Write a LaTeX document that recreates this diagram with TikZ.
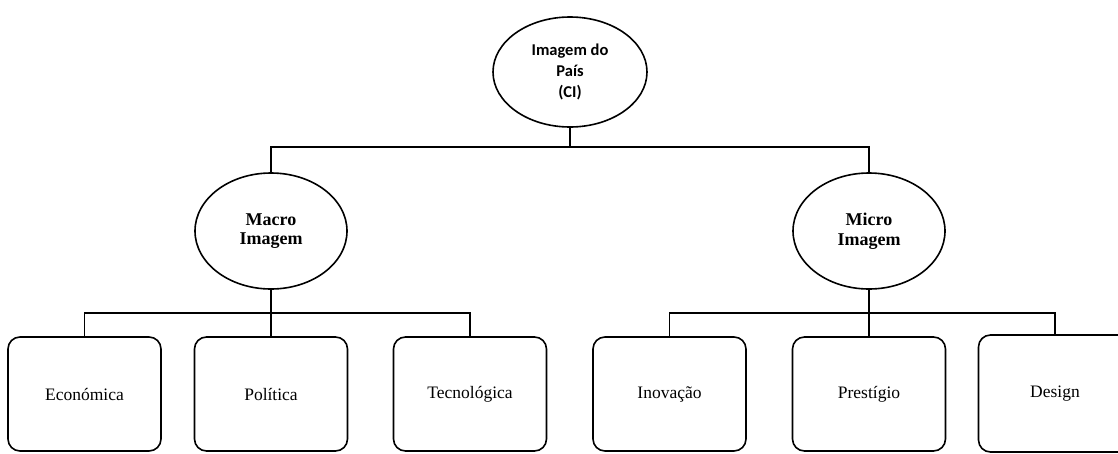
\documentclass[tikz,border=0pt]{standalone}
\usepackage{fontspec}
\setmainfont{Liberation Serif}
\newfontfamily\calibrifont{Carlito}
\usetikzlibrary{shapes.geometric}
\tikzset{
  img top/.style={draw,ellipse,line width=1.6pt,inner sep=0pt,minimum width=154pt,minimum height=110pt,
    align=center,font=\calibrifont\bfseries\fontsize{16.5}{21}\selectfont},
  img mid/.style={draw,ellipse,line width=1.6pt,inner sep=0pt,minimum width=152pt,minimum height=116pt,
    align=center,font=\bfseries\fontsize{18}{19.5}\selectfont},
  img leaf/.style={draw,rectangle,rounded corners=12pt,line width=1.6pt,minimum width=153pt,minimum height=114pt,
    font=\fontsize{17.5}{20}\selectfont},
  img link/.style={line width=1.6pt}
}
\begin{document}
\begin{tikzpicture}[x=1pt,y=1pt]
  \clip (0,0) rectangle (1118,-453);
  \node[img top] (ci) at (570,-72) {Imagem do\\País\\(CI)};
  \node[img mid] (macro) at (271,-231) {Macro\\Imagem};
  \node[img mid] (micro) at (869,-231) {Micro\\Imagem};
  \node[img leaf] (eco) at (84.5,-394) {Económica};
  \node[img leaf] (pol) at (271,-394) {Política};
  \node[img leaf] (tec) at (470,-394) {Tecnológica};
  \node[img leaf] (ino) at (669.5,-394) {Inovação};
  \node[img leaf] (pre) at (869,-394) {Prestígio};
  \node[img leaf,minimum height=117pt] (des) at (1055,-393.5) {Design};
  \coordinate (jtop) at (570,-147);
  \coordinate (jmacro) at (271,-313);
  \coordinate (jmicro) at (869,-313);
  % tronco
  \draw[img link] (ci) -- (jtop);
  \draw[img link] (macro.north) -- (macro.north |- jtop) -- (micro.north |- jtop) -- (micro.north);
  % ramos
  \draw[img link] (macro) -- (pol);
  \draw[img link] (eco.north) |- (jmacro) -| (tec.north);
  \draw[img link] (micro) -- (pre);
  \draw[img link] (ino.north) |- (jmicro) -| (des.north);
\end{tikzpicture}
\end{document}
